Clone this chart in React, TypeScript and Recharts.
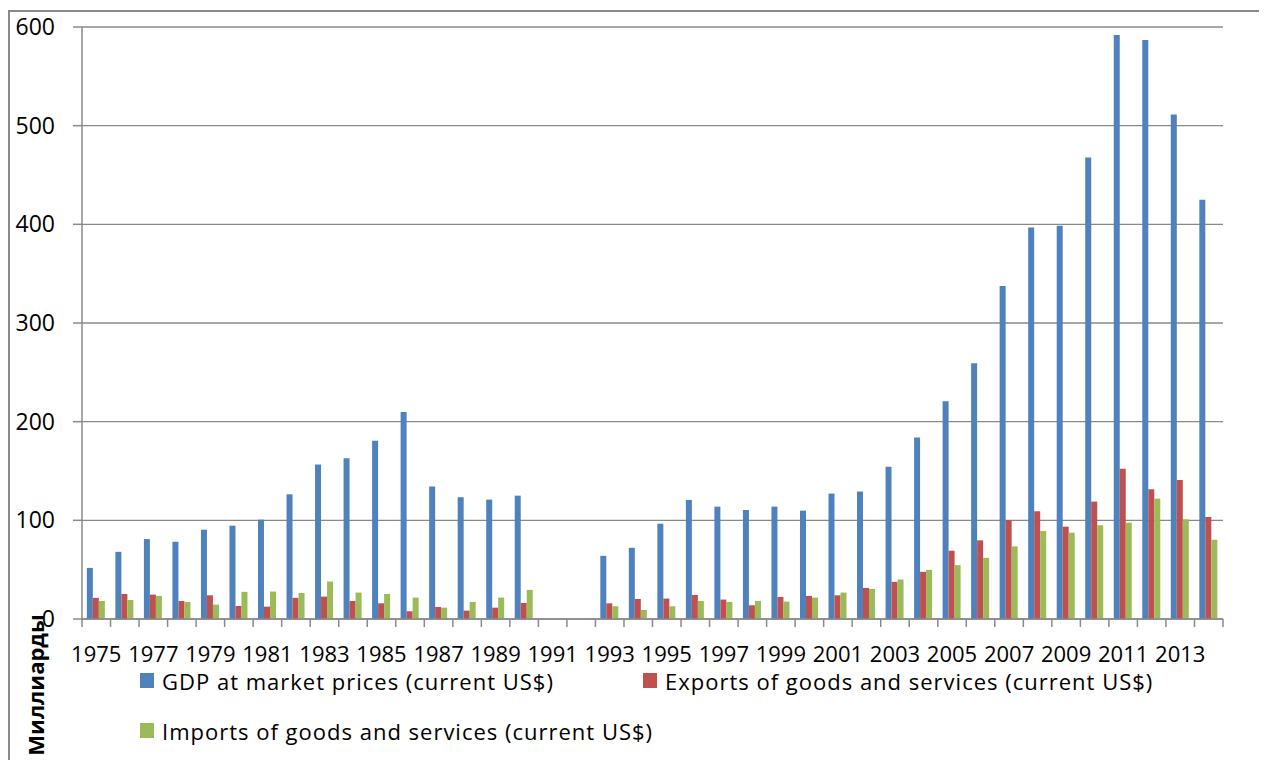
import React from "react";
import { Bar, BarChart, CartesianGrid, Label, XAxis, YAxis } from "recharts";

const years = [
  "1975", "1976", "1977", "1978", "1979", "1980", "1981", "1982", "1983", "1984",
  "1985", "1986", "1987", "1988", "1989", "1990", "1991", "1992", "1993", "1994",
  "1995", "1996", "1997", "1998", "1999", "2000", "2001", "2002", "2003", "2004",
  "2005", "2006", "2007", "2008", "2009", "2010", "2011", "2012", "2013", "2014",
];

// billions of current US$; 1991-1992 have no data
const gdp = [
  51.8, 68.1, 81, 78.3, 90.5, 94.6, 100.7, 126.4, 156.6, 163,
  180.7, 209.8, 134.2, 123.4, 121, 125, null, null, 64, 72.2,
  96.6, 120.7, 113.9, 110.5, 113.9, 109.8, 127.1, 129.2, 154.2, 184,
  220.7, 259.3, 337.4, 396.8, 398.5, 467.7, 591.9, 586.8, 511.2, 424.8,
];
const exportsUsd = [
  21.4, 25.4, 24.7, 18.3, 24, 13.2, 12.5, 21.4, 22.7, 18.3,
  15.9, 7.8, 12.2, 8.5, 11.5, 16.3, null, null, 15.9, 20.3,
  20.7, 24.4, 19.7, 13.9, 22.4, 23.4, 24, 31.5, 37.6, 47.8,
  69.2, 79.7, 100.3, 109.2, 93.6, 119, 152.2, 131.5, 141, 103.4,
];
const importsUsd = [
  18.3, 19.3, 23.4, 17.3, 14.6, 27.5, 27.8, 26.4, 38, 26.8,
  25.4, 21.7, 11.5, 17.3, 21.7, 29.5, null, null, 12.9, 9.2,
  12.9, 18.3, 17.3, 18.3, 17.6, 21.7, 26.8, 30.5, 40, 49.8,
  54.6, 62, 73.6, 89.2, 87.5, 95, 97.6, 122, 101, 80.3,
];

const yTicks = [0, 100, 200, 300, 400, 500, 600];
const seriesKeys = ["gdp", "exports", "imports"];
const seriesNames = [
  "GDP at market prices (current US$)",
  "Exports of goods and services (current US$)",
  "Imports of goods and services (current US$)",
];
const seriesColors = ["#4F81BD", "#C0504D", "#9BBB59"];
const axisTitle = "Миллиарды";

const data = years.map((year, i) => ({
  year,
  gdp: gdp[i],
  exports: exportsUsd[i],
  imports: importsUsd[i],
}));

const FONT = "'Open Sans', sans-serif";
const LINE = "#8a8a8a";
const W = 1253;
const H = 752;
const MARGIN = { top: 19, right: 38, bottom: 81, left: 14 };
const Y_AXIS_W = 60;
const PLOT_W = W - MARGIN.left - MARGIN.right - Y_AXIS_W;
const BAND = PLOT_W / years.length;

// Excel puts the tick marks between categories and labels every other year
function YearTick(props: any) {
  const { x, y, payload } = props;
  const index = props.index ?? payload.index;
  const left = x - BAND / 2;
  return (
    <g>
      <line x1={left} x2={left} y1={y} y2={y + 8} stroke={LINE} strokeWidth={1.5} />
      {index === years.length - 1 && (
        <line x1={x + BAND / 2} x2={x + BAND / 2} y1={y} y2={y + 8} stroke={LINE} strokeWidth={1.5} />
      )}
      {index % 2 === 0 && (
        <text x={x} y={y + 43} textAnchor="middle" fontSize={22} fontFamily={FONT} fill="#000">
          {payload.value}
        </text>
      )}
    </g>
  );
}

function AxisTitle(props: any) {
  const vb = props.viewBox;
  const cx = vb.x + 13;
  const cy = vb.y + vb.height + 66;
  return (
    <text
      x={cx}
      y={cy}
      transform={`rotate(-90 ${cx} ${cy})`}
      textAnchor="middle"
      dominantBaseline="central"
      fontSize={22}
      fontWeight={700}
      fontFamily={FONT}
      fill="#000"
    >
      {axisTitle}
    </text>
  );
}

export default function App() {
  return (
    <div style={{ position: "relative", width: W, height: H, fontFamily: FONT }}>
      <style>{"html,body{overflow:hidden}"}</style>
      <div
        style={{
          position: "absolute",
          left: 0,
          top: 2,
          width: W,
          height: 800,
          border: `2px solid ${LINE}`,
          boxSizing: "border-box",
        }}
      />
      <div style={{ position: "absolute", left: 0, top: 0 }}>
        <BarChart
          width={W}
          height={H}
          data={data}
          margin={MARGIN}
          barCategoryGap="17%"
          barGap={0}
        >
          <CartesianGrid vertical={false} stroke={LINE} strokeWidth={1.4} />
          <XAxis
            dataKey="year"
            interval={0}
            height={60}
            tickSize={0}
            tickMargin={0}
            tickLine={false}
            axisLine={{ stroke: LINE, strokeWidth: 1.5 }}
            tick={<YearTick />}
          />
          <YAxis
            width={Y_AXIS_W}
            domain={[0, 600]}
            ticks={yTicks}
            interval={0}
            tickSize={9}
            tickMargin={18}
            axisLine={{ stroke: LINE, strokeWidth: 1.5 }}
            tickLine={{ stroke: LINE, strokeWidth: 1.5 }}
            tick={{ fontSize: 23, fill: "#000", fontFamily: FONT }}
          >
            <Label content={<AxisTitle />} />
          </YAxis>
          {seriesKeys.map((key, i) => (
            <Bar
              key={key}
              dataKey={key}
              name={seriesNames[i]}
              fill={seriesColors[i]}
              isAnimationActive={false}
            />
          ))}
        </BarChart>
      </div>
      {seriesNames.map((name, i) => (
        <div
          key={name}
          style={{
            position: "absolute",
            left: 132 + (i % 2) * 503,
            top: 665 + Math.floor(i / 2) * 50,
            height: 15,
            display: "flex",
            alignItems: "center",
            whiteSpace: "nowrap",
          }}
        >
          <span
            style={{
              display: "inline-block",
              width: 14,
              height: 15,
              background: seriesColors[i],
              marginRight: 8,
            }}
          />
          <span style={{ fontSize: 22, color: "#000", letterSpacing: 1 }}>{name}</span>
        </div>
      ))}
    </div>
  );
}
